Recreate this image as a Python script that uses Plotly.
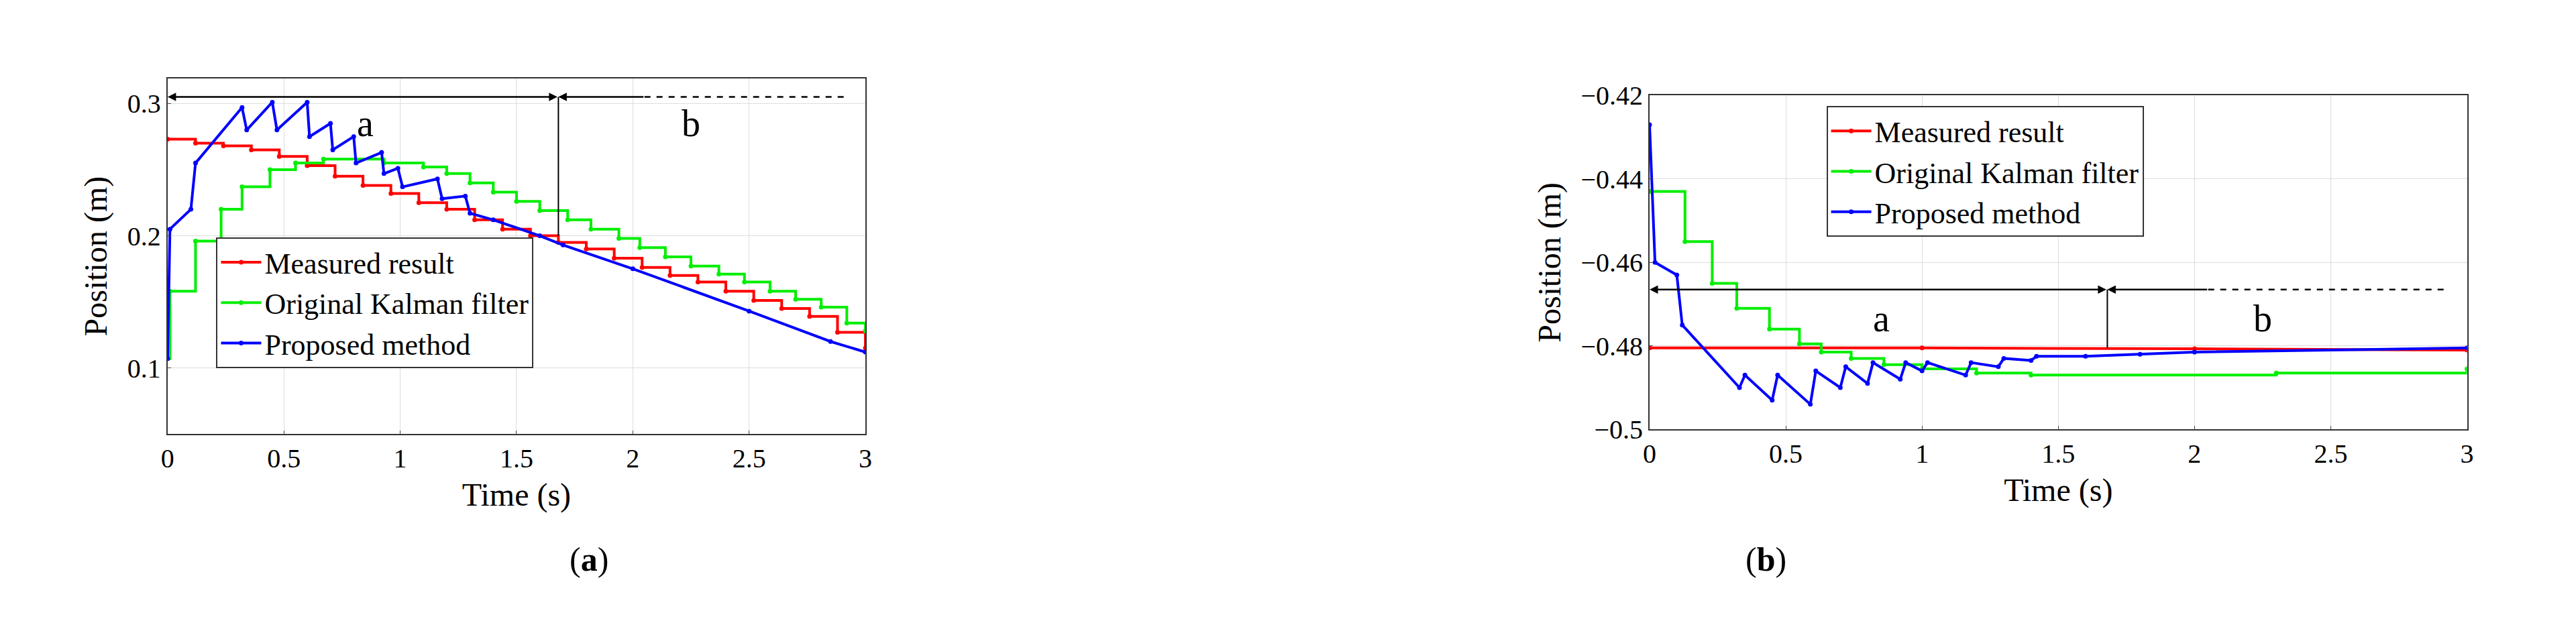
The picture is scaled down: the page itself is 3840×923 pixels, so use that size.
import plotly.graph_objects as go

# (a) step grid, 0.12 s period
t_step = [0.0, 0.12, 0.24, 0.36, 0.48, 0.60, 0.72, 0.84, 0.96, 1.08, 1.20, 1.32, 1.44,
          1.56, 1.68, 1.80, 1.92, 2.04, 2.16, 2.28, 2.40, 2.52, 2.64, 2.76, 2.88, 3.0]
a_measured = [0.273, 0.270, 0.268, 0.265, 0.260, 0.253, 0.245, 0.238, 0.232, 0.225, 0.220, 0.212,
              0.205, 0.200, 0.195, 0.190, 0.183, 0.176, 0.170, 0.165, 0.158, 0.151, 0.145, 0.139,
              0.127, 0.115]
a_kalman_t = [0.0, 0.01, 0.12, 0.23, 0.32, 0.44, 0.55, 0.67, 0.93, 1.10, 1.20, 1.30, 1.40, 1.50,
              1.60, 1.72, 1.82, 1.94, 2.03, 2.14, 2.25, 2.37, 2.48, 2.59, 2.70, 2.81, 2.92, 3.0]
a_kalman = [0.107, 0.158, 0.196, 0.220, 0.237, 0.250, 0.255, 0.258, 0.255, 0.252, 0.247, 0.240,
            0.233, 0.226, 0.219, 0.212, 0.205, 0.198, 0.191, 0.184, 0.177, 0.171, 0.165, 0.158,
            0.152, 0.146, 0.134, 0.128]
a_prop_t = [0.0, 0.01, 0.10, 0.12, 0.32, 0.34, 0.45, 0.47, 0.60, 0.61, 0.70, 0.71, 0.80, 0.81,
            0.92, 0.93, 0.99, 1.01, 1.16, 1.18, 1.28, 1.30, 1.40, 1.60, 1.70, 2.00, 2.50, 2.85, 3.0]
a_prop = [0.107, 0.205, 0.220, 0.255, 0.297, 0.280, 0.301, 0.280, 0.301, 0.275, 0.285, 0.265,
          0.275, 0.255, 0.263, 0.247, 0.251, 0.237, 0.243, 0.228, 0.230, 0.217, 0.212, 0.200,
          0.193, 0.175, 0.143, 0.120, 0.112]

# (b)
b_meas_t = [0.0, 1.0, 2.0, 3.0]
b_measured = [-0.4805, -0.4805, -0.4807, -0.481]
b_kalman_t = [0.0, 0.13, 0.23, 0.32, 0.44, 0.55, 0.63, 0.74, 0.86, 1.00, 1.20, 1.40, 2.30, 3.0]
b_kalman = [-0.443, -0.455, -0.465, -0.471, -0.476, -0.4795, -0.4815, -0.483, -0.4845,
            -0.4855, -0.4865, -0.487, -0.4865, -0.4855]
b_prop_t = [0.0, 0.02, 0.10, 0.12, 0.33, 0.35, 0.45, 0.47, 0.59, 0.61, 0.70, 0.72, 0.80, 0.82,
            0.92, 0.94, 1.00, 1.02, 1.16, 1.18, 1.28, 1.30, 1.40, 1.42, 1.60, 1.80, 2.00, 3.0]
b_prop = [-0.427, -0.460, -0.463, -0.475, -0.490, -0.487, -0.493, -0.487, -0.494, -0.486, -0.490,
          -0.485, -0.489, -0.484, -0.488, -0.484, -0.486, -0.484, -0.487, -0.484, -0.485, -0.483,
          -0.4835, -0.4825, -0.4825, -0.482, -0.4815, -0.4805]

names = ["Measured result", "Original Kalman filter", "Proposed method"]
colors = ["#ff0000", "#00ee00", "#0000ff"]
FONT = "Liberation Serif"

fig = go.Figure()
series = [
    ("x", "y", "legend", t_step, a_measured, "hv"),
    ("x", "y", "legend", a_kalman_t, a_kalman, "hv"),
    ("x", "y", "legend", a_prop_t, a_prop, "linear"),
    ("x2", "y2", "legend2", b_meas_t, b_measured, "linear"),
    ("x2", "y2", "legend2", b_kalman_t, b_kalman, "hv"),
    ("x2", "y2", "legend2", b_prop_t, b_prop, "linear"),
]
for i, (xa, ya, lg, xs, ys, shape) in enumerate(series):
    fig.add_trace(go.Scatter(x=xs, y=ys, xaxis=xa, yaxis=ya, legend=lg, name=names[i % 3],
                             mode="lines+markers", line=dict(color=colors[i % 3], width=4, shape=shape),
                             marker=dict(size=7, color=colors[i % 3])))

axis_common = dict(showgrid=True, gridcolor="#dddddd", showline=True, mirror=True, linecolor="#333",
                   linewidth=2, ticks="inside", tickfont=dict(family=FONT, size=40, color="black"),
                   zeroline=False)
fig.update_layout(
    width=3840, height=923, paper_bgcolor="white", plot_bgcolor="white", margin=dict(l=0, r=0, t=0, b=0),
    font=dict(family=FONT, color="black"), showlegend=True,
    xaxis=dict(domain=[0.0607, 0.333], range=[0, 3], dtick=0.5, anchor="y",
               title=dict(text="Time (s)", font=dict(size=48)), **axis_common),
    yaxis=dict(domain=[0.297, 0.901], range=[0.05, 0.319], tickvals=[0.1, 0.2, 0.3], anchor="x",
               title=dict(text="Position (m)", font=dict(size=48)), **axis_common),
    xaxis2=dict(domain=[0.639, 0.958], range=[0, 3], dtick=0.5, anchor="y2",
                title=dict(text="Time (s)", font=dict(size=48)), **axis_common),
    yaxis2=dict(domain=[0.305, 0.872], range=[-0.5, -0.42], dtick=0.02, anchor="x2",
                tickformat=".2~f", title=dict(text="Position (m)", font=dict(size=48)), **axis_common),
    legend=dict(x=0.0797, y=0.631, xanchor="left", yanchor="top", bgcolor="white", bordercolor="#333",
                borderwidth=2, font=dict(size=44, family=FONT), itemwidth=60),
    legend2=dict(x=0.708, y=0.854, xanchor="left", yanchor="top", bgcolor="white", bordercolor="#333",
                 borderwidth=2, font=dict(size=44, family=FONT), itemwidth=60),
)

def region_marks(xa, ya, yline, ybot, ylab):
    xr, yr = xa, ya
    fig.add_annotation(x=0, y=yline, ax=1.68, ay=yline, xref=xr, yref=yr, axref=xr, ayref=yr,
                       text="", showarrow=True, arrowhead=2, arrowside="end+start", arrowwidth=2.5,
                       arrowcolor="black")
    fig.add_annotation(x=1.68, y=yline, ax=2.05, ay=yline, xref=xr, yref=yr, axref=xr, ayref=yr,
                       text="", showarrow=True, arrowhead=2, arrowwidth=2.5, arrowcolor="black")
    fig.add_shape(type="line", x0=2.05, x1=2.93, y0=yline, y1=yline, xref=xr, yref=yr,
                  line=dict(color="black", width=2.5, dash="dash"))
    fig.add_shape(type="line", x0=1.68, x1=1.68, y0=yline, y1=ybot, xref=xr, yref=yr,
                  line=dict(color="black", width=2))
    fig.add_annotation(x=0.85, y=ylab, xref=xr, yref=yr, text="a", showarrow=False, font=dict(size=56))
    fig.add_annotation(x=2.25, y=ylab, xref=xr, yref=yr, text="b", showarrow=False, font=dict(size=56))

region_marks("x", "y", 0.305, 0.2, 0.285)
region_marks("x2", "y2", -0.4665, -0.4805, -0.4735)

fig.add_annotation(x=0.217, y=0.05, xref="paper", yref="paper", text="(<b>a</b>)", showarrow=False,
                   font=dict(size=50))
fig.add_annotation(x=0.693, y=0.05, xref="paper", yref="paper", text="(<b>b</b>)", showarrow=False,
                   font=dict(size=50))

fig.write_html("out.html")
